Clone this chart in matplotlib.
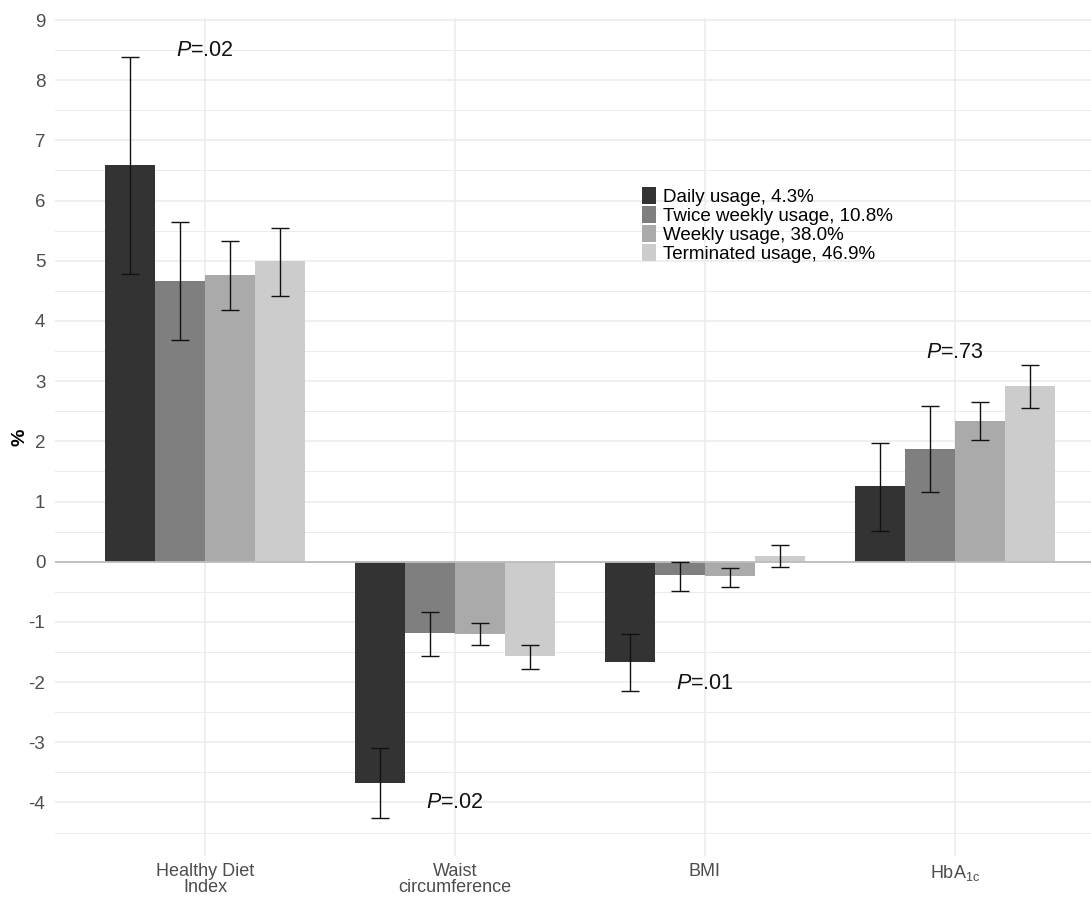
import numpy as np
import matplotlib
matplotlib.use("Agg")
import matplotlib.pyplot as plt
from matplotlib.patches import Patch

plt.rcParams['font.family'] = ['Liberation Sans', 'DejaVu Sans']
plt.rcParams['mathtext.fontset'] = 'custom'
plt.rcParams['mathtext.rm'] = 'Liberation Sans'
plt.rcParams['mathtext.it'] = 'Liberation Sans:italic'

# Outcomes and usage groups
categories = ["Healthy Diet\nIndex", "Waist\ncircumference", "BMI", r"HbA$_{\mathrm{1c}}$"]
groups = ["Daily usage, 4.3%", "Twice weekly usage, 10.8%",
          "Weekly usage, 38.0%", "Terminated usage, 46.9%"]
colors = ["#333333", "#7F7F7F", "#AAAAAA", "#CCCCCC"]

# Percentage change per outcome for each usage group
daily = [6.59, -3.67, -1.67, 1.25]
twice_weekly = [4.67, -1.18, -0.22, 1.88]
weekly = [4.77, -1.20, -0.24, 2.34]
terminated = [4.99, -1.57, 0.09, 2.92]

daily_lo = [4.78, -4.26, -2.15, 0.51]
daily_hi = [8.39, -3.10, -1.20, 1.98]
twice_lo = [3.69, -1.56, -0.49, 1.15]
twice_hi = [5.65, -0.84, 0.00, 2.58]
weekly_lo = [4.19, -1.39, -0.42, 2.02]
weekly_hi = [5.33, -1.02, -0.10, 2.66]
term_lo = [4.42, -1.79, -0.08, 2.56]
term_hi = [5.54, -1.38, 0.27, 3.26]

p_labels = [".02", ".02", ".01", ".73"]
p_y = [8.5, -4.0, -2.03, 3.48]

values = [daily, twice_weekly, weekly, terminated]
lows = [daily_lo, twice_lo, weekly_lo, term_lo]
highs = [daily_hi, twice_hi, weekly_hi, term_hi]

W, H = 1091, 897
fig = plt.figure(figsize=(W / 100, H / 100), dpi=100)
ax = fig.add_axes([55 / W, 1 - 856 / H, 1 - 55 / W, (856 - 17.6) / H])

x = np.arange(1, len(categories) + 1)
bw = 0.2

# grid
for yv in np.arange(-4.5, 9.0, 1.0):
    ax.axhline(yv, color="#EBEBEB", lw=0.7, zorder=0)
for yv in np.arange(-4, 10, 1):
    ax.axhline(yv, color="#EBEBEB", lw=1.1, zorder=0)
for xv in x:
    ax.axvline(xv, color="#EBEBEB", lw=1.1, zorder=0)

for i, (vals, lo, hi, c) in enumerate(zip(values, lows, highs, colors)):
    pos = x + (i - 1.5) * bw
    vals = np.array(vals)
    ax.bar(pos, vals, width=bw, color=c, edgecolor="none", zorder=2, label=groups[i])
    ax.errorbar(pos, vals, yerr=[vals - np.array(lo), np.array(hi) - vals],
                fmt="none", ecolor="#111111", elinewidth=1.0, capsize=6.8,
                capthick=1.0, zorder=3)

ax.axhline(0, color="#BDBDBD", lw=1.3, zorder=2.5)

for xi, lab, yy in zip(x, p_labels, p_y):
    ax.text(xi, yy, r"$P$=" + lab, ha="center", va="center", fontsize=15.5,
            color="#111111", zorder=4)

ax.set_xlim(0.4, 1 + (1091 - 205) / 250)
ax.set_ylim(-4.89, 9.04)
ax.set_yticks(np.arange(-4, 10, 1))
ax.set_yticklabels([str(v) for v in range(-4, 10)])
ax.set_xticks(x)
ax.set_xticklabels(categories, linespacing=0.95)
ax.tick_params(axis="both", length=0, labelsize=13.5, labelcolor="#4D4D4D")
ax.tick_params(axis="y", pad=7)
ax.tick_params(axis="x", pad=5, labelsize=13)
for s in ax.spines.values():
    s.set_visible(False)
ax.set_facecolor("white")

fig.text(20 / W, 1 - 437 / H, "%", rotation=90, ha="center", va="center",
         fontsize=14, fontweight="bold", color="black")

handles = [Patch(facecolor=c, edgecolor="none") for c in colors]
leg = ax.legend(handles, groups, loc="upper left",
                bbox_to_anchor=(642 / W, 1 - 187 / H), bbox_transform=fig.transFigure,
                frameon=False, fontsize=13.5, handlelength=0.75, handleheight=1.04,
                handletextpad=0.35, labelspacing=0.0, borderpad=0, borderaxespad=0)
for t in leg.get_texts():
    t.set_color("black")

fig.savefig("out.png", dpi=100, facecolor="white")
